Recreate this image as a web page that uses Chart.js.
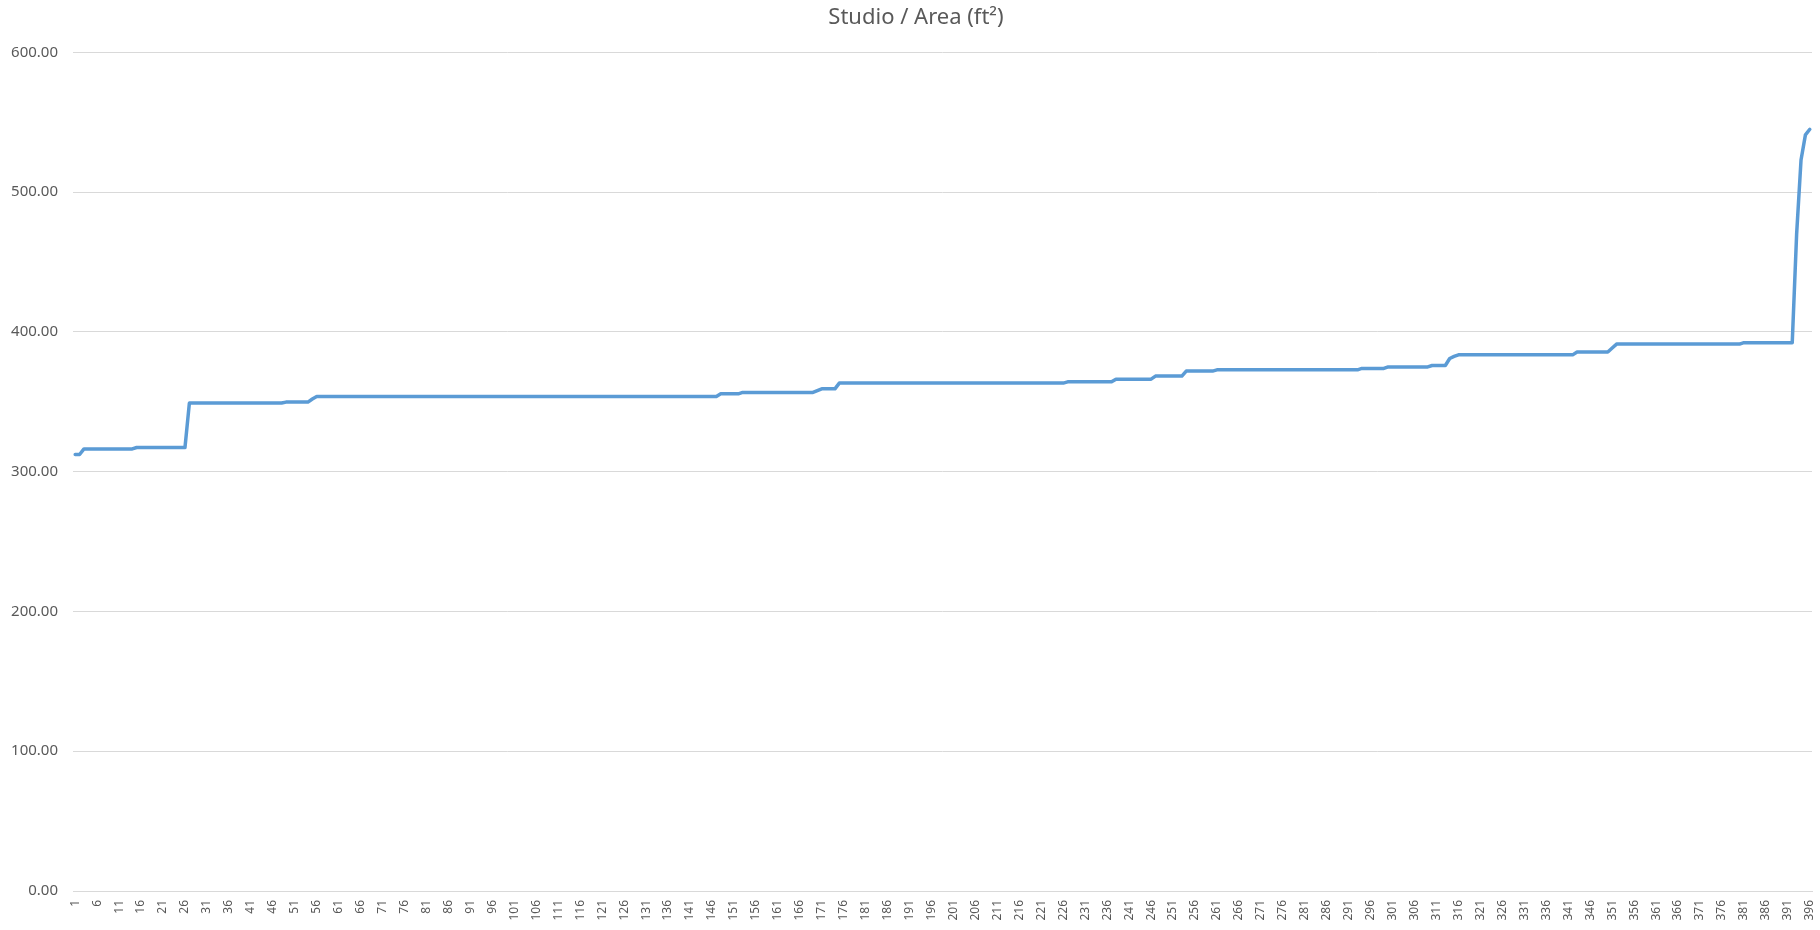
<!DOCTYPE html>
<html>
<head>
<meta charset="utf-8">
<title>Studio / Area</title>
<script src="https://cdn.jsdelivr.net/npm/chart.js@4.4.1/dist/chart.umd.min.js"></script>
<style>
  html, body { margin: 0; padding: 0; background: #ffffff; }
  #wrap { width: 1820px; height: 930px; position: relative; }
</style>
</head>
<body>
<div id="wrap"><canvas id="chart-area"></canvas></div>
<script>
// Studio area (ft2) per listing, sorted
var chartTitle = 'Studio / Area (ft\u00B2)';
var yTicks = [0, 100, 200, 300, 400, 500, 600];

var areaValues = [
  312.3, 312.3, 316.3, 316.3, 316.3, 316.3, 316.3, 316.3, 316.3, 316.3,
  316.3, 316.3, 316.3, 316.3, 317.3, 317.3, 317.3, 317.3, 317.3, 317.3,
  317.3, 317.3, 317.3, 317.3, 317.3, 317.3, 349.1, 349.1, 349.1, 349.1,
  349.1, 349.1, 349.1, 349.1, 349.1, 349.1, 349.1, 349.1, 349.1, 349.1,
  349.1, 349.1, 349.1, 349.1, 349.1, 349.1, 349.1, 349.1, 349.8, 349.8,
  349.8, 349.8, 349.8, 349.8, 352.0, 353.8, 353.8, 353.8, 353.8, 353.8,
  353.8, 353.8, 353.8, 353.8, 353.8, 353.8, 353.8, 353.8, 353.8, 353.8,
  353.8, 353.8, 353.8, 353.8, 353.8, 353.8, 353.8, 353.8, 353.8, 353.8,
  353.8, 353.8, 353.8, 353.8, 353.8, 353.8, 353.8, 353.8, 353.8, 353.8,
  353.8, 353.8, 353.8, 353.8, 353.8, 353.8, 353.8, 353.8, 353.8, 353.8,
  353.8, 353.8, 353.8, 353.8, 353.8, 353.8, 353.8, 353.8, 353.8, 353.8,
  353.8, 353.8, 353.8, 353.8, 353.8, 353.8, 353.8, 353.8, 353.8, 353.8,
  353.8, 353.8, 353.8, 353.8, 353.8, 353.8, 353.8, 353.8, 353.8, 353.8,
  353.8, 353.8, 353.8, 353.8, 353.8, 353.8, 353.8, 353.8, 353.8, 353.8,
  353.8, 353.8, 353.8, 353.8, 353.8, 353.8, 353.8, 355.7, 355.7, 355.7,
  355.7, 355.7, 356.7, 356.7, 356.7, 356.7, 356.7, 356.7, 356.7, 356.7,
  356.7, 356.7, 356.7, 356.7, 356.7, 356.7, 356.7, 356.7, 356.7, 358.0,
  359.3, 359.3, 359.3, 359.3, 363.4, 363.4, 363.4, 363.4, 363.4, 363.4,
  363.4, 363.4, 363.4, 363.4, 363.4, 363.4, 363.4, 363.4, 363.4, 363.4,
  363.4, 363.4, 363.4, 363.4, 363.4, 363.4, 363.4, 363.4, 363.4, 363.4,
  363.4, 363.4, 363.4, 363.4, 363.4, 363.4, 363.4, 363.4, 363.4, 363.4,
  363.4, 363.4, 363.4, 363.4, 363.4, 363.4, 363.4, 363.4, 363.4, 363.4,
  363.4, 363.4, 363.4, 363.4, 363.4, 363.4, 364.3, 364.3, 364.3, 364.3,
  364.3, 364.3, 364.3, 364.3, 364.3, 364.3, 364.3, 366.2, 366.2, 366.2,
  366.2, 366.2, 366.2, 366.2, 366.2, 366.2, 368.4, 368.4, 368.4, 368.4,
  368.4, 368.4, 368.4, 372.0, 372.0, 372.0, 372.0, 372.0, 372.0, 372.0,
  372.9, 372.9, 372.9, 372.9, 372.9, 372.9, 372.9, 372.9, 372.9, 372.9,
  372.9, 372.9, 372.9, 372.9, 372.9, 372.9, 372.9, 372.9, 372.9, 372.9,
  372.9, 372.9, 372.9, 372.9, 372.9, 372.9, 372.9, 372.9, 372.9, 372.9,
  372.9, 372.9, 372.9, 373.9, 373.9, 373.9, 373.9, 373.9, 373.9, 375.0,
  375.0, 375.0, 375.0, 375.0, 375.0, 375.0, 375.0, 375.0, 375.0, 376.0,
  376.0, 376.0, 376.0, 381.0, 382.5, 383.6, 383.6, 383.6, 383.6, 383.6,
  383.6, 383.6, 383.6, 383.6, 383.6, 383.6, 383.6, 383.6, 383.6, 383.6,
  383.6, 383.6, 383.6, 383.6, 383.6, 383.6, 383.6, 383.6, 383.6, 383.6,
  383.6, 383.6, 385.6, 385.6, 385.6, 385.6, 385.6, 385.6, 385.6, 385.6,
  388.5, 391.3, 391.3, 391.3, 391.3, 391.3, 391.3, 391.3, 391.3, 391.3,
  391.3, 391.3, 391.3, 391.3, 391.3, 391.3, 391.3, 391.3, 391.3, 391.3,
  391.3, 391.3, 391.3, 391.3, 391.3, 391.3, 391.3, 391.3, 391.3, 391.3,
  392.3, 392.3, 392.3, 392.3, 392.3, 392.3, 392.3, 392.3, 392.3, 392.3,
  392.3, 392.3, 470.0, 523.0, 541.0, 545.0
];

// x categories are just the row numbers 1..N
var rowLabels = areaValues.map(function (v, i) { return String(i + 1); });

var textGrey = '#595959';
var gridGrey = '#d9d9d9';

// nudge the title box a little right, like the original
var titleShift = {
  id: 'titleShift',
  afterLayout: function (chart) {
    if (chart.titleBlock) chart.titleBlock.left += 20;
  }
};

new Chart(document.getElementById('chart-area'), {
  type: 'line',
  data: {
    labels: rowLabels,
    datasets: [{
      label: 'Area',
      data: areaValues,
      borderColor: '#5b9bd5',
      borderWidth: 3.5,
      pointRadius: 0,
      tension: 0,
      fill: false,
      borderJoinStyle: 'round',
      borderCapStyle: 'round'
    }]
  },
  plugins: [titleShift],
  options: {
    responsive: true, maintainAspectRatio: false,
    animation: false,
    layout: { padding: { left: 0, right: 8, top: 0, bottom: 0 } },
    plugins: {
      legend: { display: false },
      tooltip: { enabled: false },
      title: {
        display: true,
        text: chartTitle,
        color: textGrey,
        font: { family: 'Noto Sans', size: 22, weight: 'normal', lineHeight: 1.2 },
        padding: { top: 5, bottom: 21 }
      }
    },
    scales: {
      x: {
        offset: true,
        grid: { display: false, drawTicks: false },
        border: { display: true, color: gridGrey, width: 1 },
        ticks: {
          autoSkip: false,
          minRotation: 90, maxRotation: 90,
          padding: 9,
          color: textGrey,
          font: { family: 'Noto Sans', size: 12 },
          callback: function (val, idx) { return idx % 5 === 0 ? this.getLabelForValue(val) : null; }
        },
        afterFit: function (s) { s.height = 39; s.paddingLeft = 0; s.paddingRight = 0; }
      },
      y: {
        min: 0, max: 600,
        afterBuildTicks: function (s) { s.ticks = yTicks.map(function (v) { return { value: v }; }); },
        grid: { color: gridGrey, drawTicks: false },
        border: { display: false },
        ticks: {
          padding: 15,
          color: textGrey,
          font: { family: 'Noto Sans', size: 15 },
          callback: function (v) { return v.toFixed(2); }
        },
        afterFit: function (s) { s.width = 73; s.paddingTop = 0; s.paddingBottom = 0; }
      }
    }
  }
});
</script>
</body>
</html>
